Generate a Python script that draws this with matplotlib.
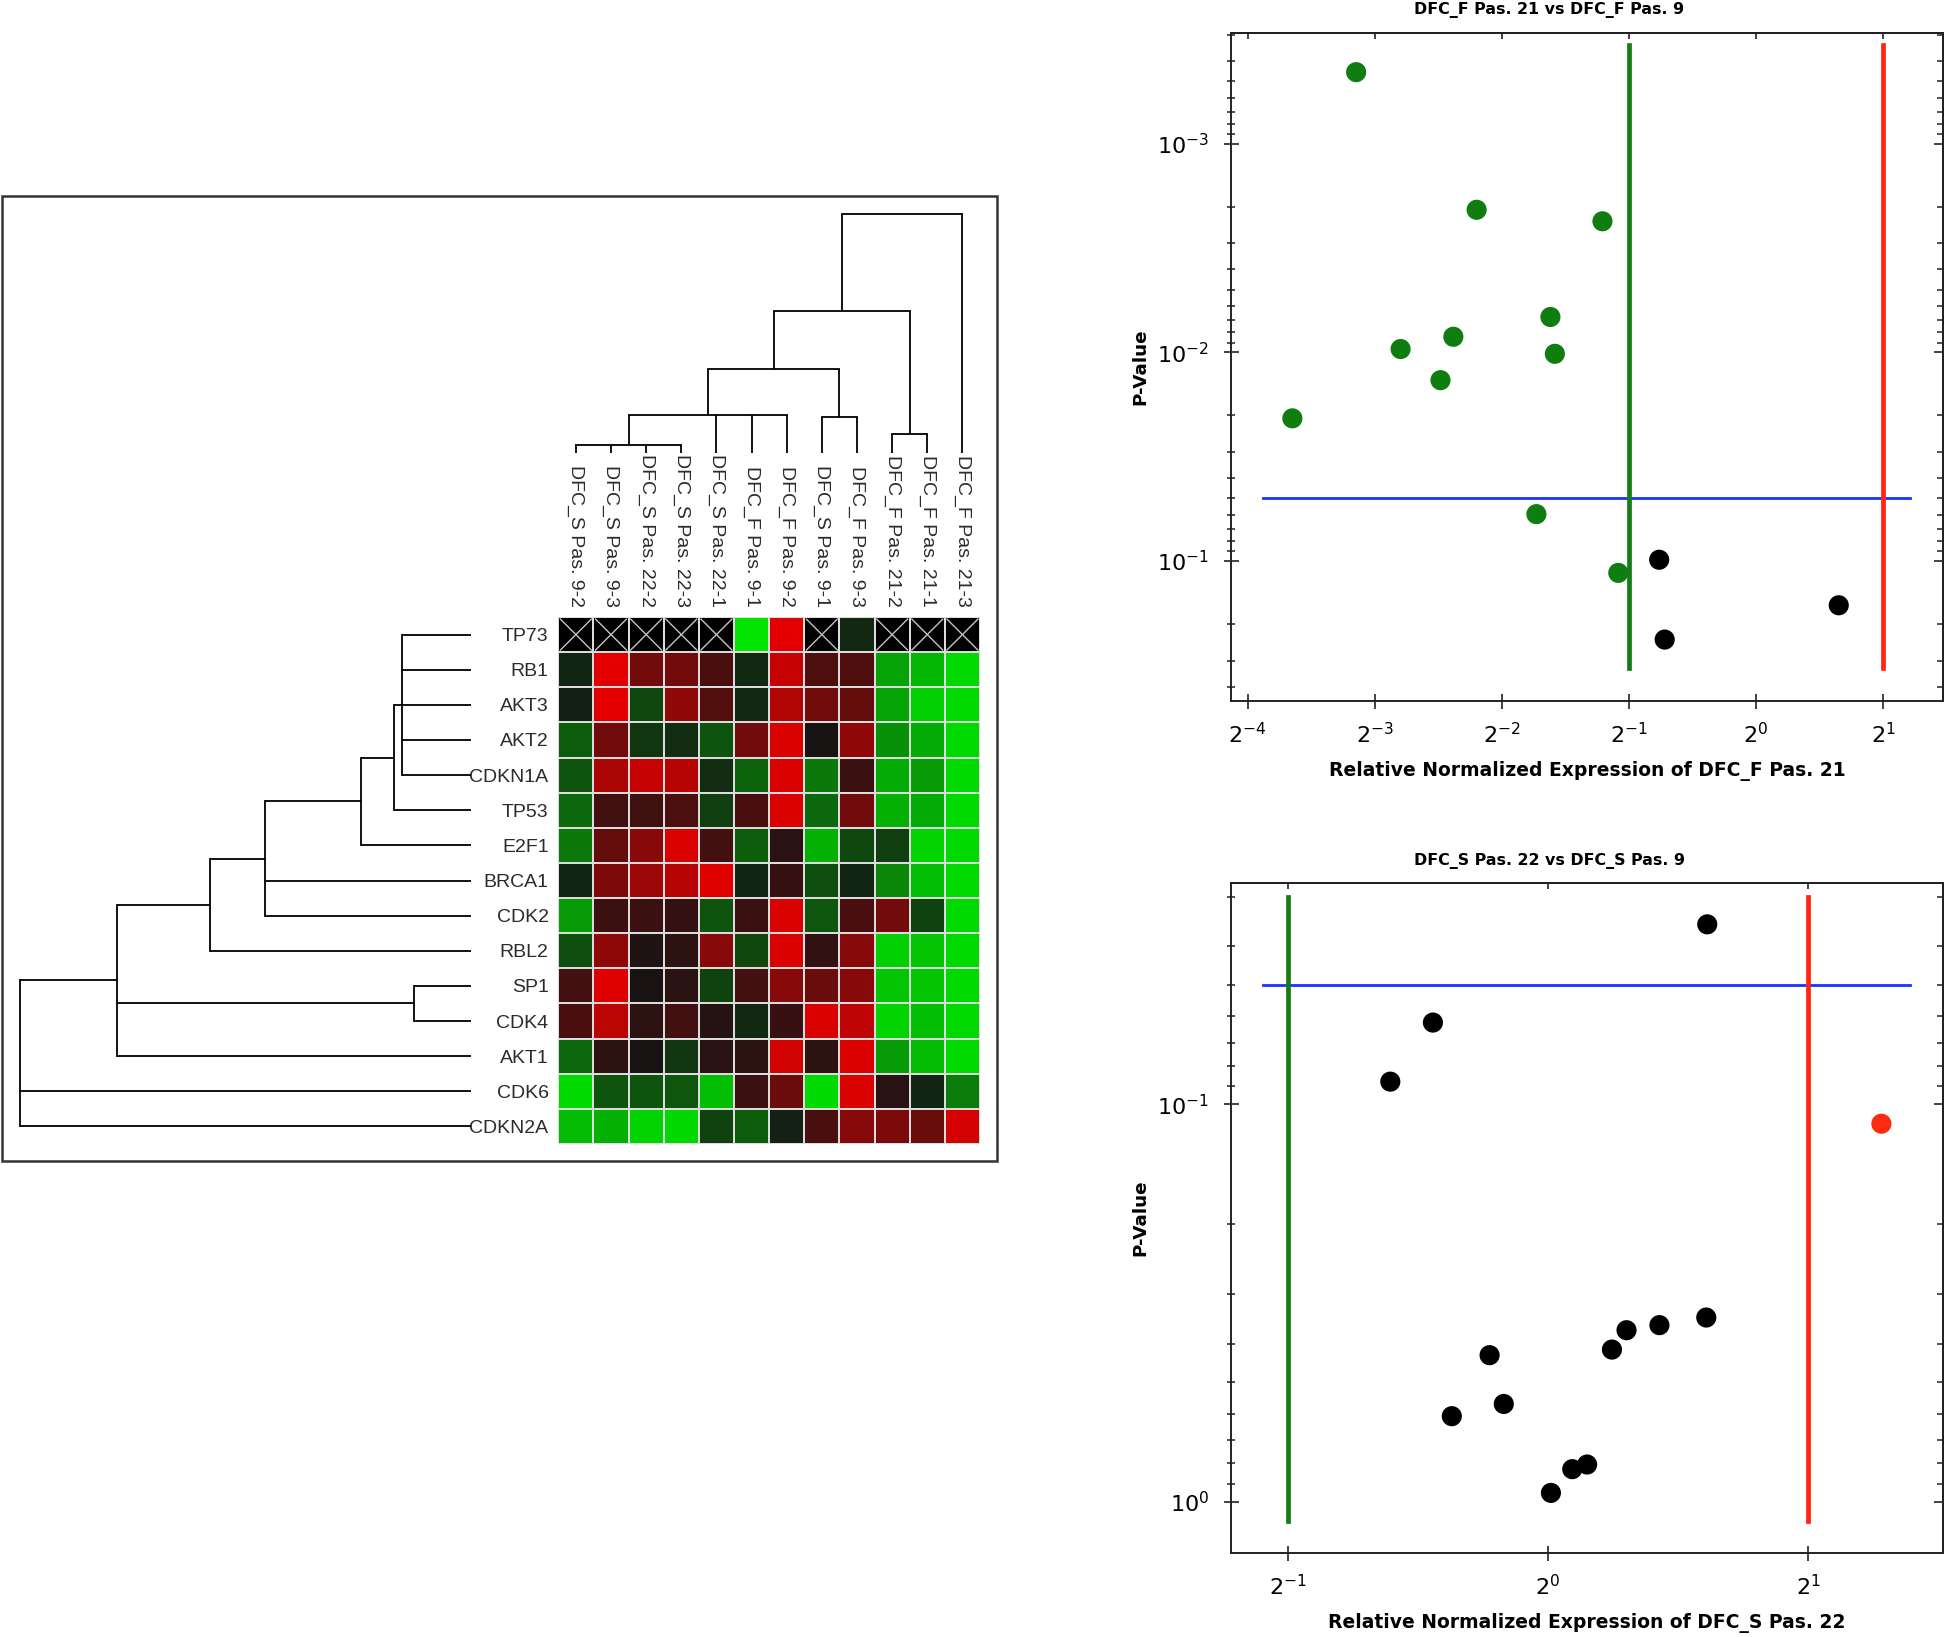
import numpy as np
import matplotlib
matplotlib.use("Agg")
import matplotlib.pyplot as plt
from matplotlib import font_manager
from matplotlib.colors import LinearSegmentedColormap
from matplotlib.patches import Rectangle
from matplotlib.ticker import (LogLocator, NullFormatter, NullLocator,
                               FixedLocator, FuncFormatter)

W, H = 1946, 1637

plt.rcParams["mathtext.fontset"] = "custom"
plt.rcParams["mathtext.rm"] = "Liberation Sans"
plt.rcParams["mathtext.it"] = "Liberation Sans:italic"
plt.rcParams["mathtext.bf"] = "Liberation Sans:bold"

# ---- heatmap data ----
genes = ["TP73", "RB1", "AKT3", "AKT2", "CDKN1A", "TP53", "E2F1", "BRCA1",
         "CDK2", "RBL2", "SP1", "CDK4", "AKT1", "CDK6", "CDKN2A"]
samples = ["DFC_S Pas. 9-2", "DFC_S Pas. 9-3", "DFC_S Pas. 22-2",
           "DFC_S Pas. 22-3", "DFC_S Pas. 22-1", "DFC_F Pas. 9-1",
           "DFC_F Pas. 9-2", "DFC_S Pas. 9-1", "DFC_F Pas. 9-3",
           "DFC_F Pas. 21-2", "DFC_F Pas. 21-1", "DFC_F Pas. 21-3"]

nan = np.nan
# scaled expression, -1 = green (low), +1 = red (high), nan = no data
expr = np.array([
    [nan, nan, nan, nan, nan, -1.0, 1.0, nan, -0.1, nan, nan, nan],
    [-0.08, 1.0, 0.45, 0.45, 0.25, -0.1, 0.85, 0.28, 0.28, -0.68, -0.78, -0.95],
    [-0.05, 1.0, -0.25, 0.6, 0.3, -0.1, 0.75, 0.45, 0.38, -0.68, -0.9, -0.95],
    [-0.35, 0.45, -0.15, -0.12, -0.3, 0.45, 0.95, 0.02, 0.6, -0.6, -0.72, -0.95],
    [-0.3, 0.72, 0.85, 0.78, -0.12, -0.38, 0.95, -0.48, 0.18, -0.72, -0.65, -0.95],
    [-0.4, 0.22, 0.2, 0.26, -0.2, 0.25, 0.95, -0.4, 0.45, -0.75, -0.72, -0.95],
    [-0.48, 0.38, 0.55, 0.95, 0.22, -0.35, 0.1, -0.75, -0.25, -0.2, -0.92, -0.95],
    [-0.08, 0.5, 0.65, 0.78, 0.98, -0.08, 0.15, -0.28, -0.08, -0.55, -0.82, -0.95],
    [-0.65, 0.18, 0.18, 0.15, -0.3, 0.18, 0.95, -0.32, 0.25, 0.45, -0.22, -0.95],
    [-0.28, 0.58, 0.06, 0.12, 0.55, -0.25, 0.95, 0.14, 0.55, -0.9, -0.85, -0.95],
    [0.22, 0.98, 0.03, 0.1, -0.22, 0.22, 0.55, 0.42, 0.55, -0.85, -0.85, -0.95],
    [0.25, 0.8, 0.12, 0.22, 0.08, -0.1, 0.17, 0.95, 0.82, -0.92, -0.82, -0.95],
    [-0.4, 0.12, 0.02, -0.15, 0.1, 0.12, 0.9, 0.12, 0.95, -0.65, -0.8, -0.95],
    [-0.95, -0.3, -0.3, -0.32, -0.82, 0.18, 0.42, -0.95, 0.95, 0.1, -0.08, -0.5],
    [-0.8, -0.75, -0.92, -0.93, -0.22, -0.35, -0.06, 0.25, 0.55, 0.5, 0.4, 0.92],
])

# clustering: (children, height); leaves first, new nodes numbered after
row_merges = [
    ([0, 1, 2, 3, 4], 0.152),
    ([15, 5], 0.171),
    ([16, 6], 0.244),
    ([17, 7, 8], 0.456),
    ([18, 9], 0.578),
    ([10, 11], 0.127),
    ([19, 20, 12], 0.786),
    ([21, 13, 14], 1.0),
]
col_merges = [
    ([0, 1, 2, 3], 0.032),
    ([12, 4, 5, 6], 0.158),
    ([7, 8], 0.151),
    ([13, 14], 0.350),
    ([9, 10], 0.078),
    ([15, 16], 0.595),
    ([17, 11], 1.0),
]

# ---- volcano data ----
fold_F = [0.113, 0.218, 0.433, 0.326, 0.192, 0.144, 0.334, 0.179, 0.0798,
          0.302, 0.472, 0.590, 0.608, 1.571]
pval_F = [4.53e-4, 2.07e-3, 2.35e-3, 6.76e-3, 8.41e-3, 9.63e-3, 0.01015,
          0.01358, 0.0207, 0.0596, 0.114, 0.0986, 0.238, 0.163]
fold_S = [1.529, 0.736, 0.657, 2.432, 1.525, 1.346, 1.233, 1.186, 0.856,
          0.889, 0.774, 1.110, 1.067, 1.008]
pval_S = [0.0352, 0.0622, 0.0876, 0.1118, 0.3438, 0.3593, 0.370, 0.414,
          0.4276, 0.5674, 0.609, 0.806, 0.828, 0.950]
fold_down, fold_up, p_cut = 0.5, 2.0, 0.05


def px(x0, y0, x1, y1):
    return [x0 / W, 1 - y1 / H, (x1 - x0) / W, (y1 - y0) / H]


names = {f.name for f in font_manager.fontManager.ttflist}
if "Liberation Sans Narrow" in names:
    hm_font, hm_size = "Liberation Sans Narrow", 16.5
else:
    hm_font, hm_size = "Liberation Sans", 14

fig = plt.figure(figsize=(W / 100, H / 100), dpi=100)
fig.patch.set_facecolor("white")

# frame round the heatmap panel
fig.add_artist(Rectangle((2 / W, 1 - 1161 / H), 995 / W, 965 / H,
                         transform=fig.transFigure, fill=False,
                         ec="#333333", lw=1.8))

# heatmap
ax_hm = fig.add_axes(px(558.3, 617, 980, 1144))
cmap = LinearSegmentedColormap.from_list("gkr", ["#00e400", "#141414", "#e40000"])
cmap.set_bad("black")
ax_hm.pcolormesh(np.ma.masked_invalid(expr), cmap=cmap, vmin=-1, vmax=1,
                 edgecolors="#dcdcdc", linewidth=1.3)
for r, c in zip(*np.where(np.isnan(expr))):
    ax_hm.plot([c + 0.06, c + 0.94], [r + 0.06, r + 0.94], color="#c4c4c4", lw=1)
    ax_hm.plot([c + 0.06, c + 0.94], [r + 0.94, r + 0.06], color="#c4c4c4", lw=1)
ax_hm.set_xlim(0, len(samples))
ax_hm.set_ylim(len(genes), 0)
ax_hm.set_yticks(np.arange(len(genes)) + 0.5, genes)
ax_hm.xaxis.tick_top()
ax_hm.set_xticks(np.arange(len(samples)) + 0.5, samples, rotation=270)
ax_hm.tick_params(length=0, labelcolor="#2b2b2b", labelsize=hm_size)
ax_hm.tick_params(axis="y", pad=7)
ax_hm.tick_params(axis="x", pad=7)
for lab in ax_hm.get_xticklabels() + ax_hm.get_yticklabels():
    lab.set_fontfamily([hm_font, "Liberation Sans"])
for s in ax_hm.spines.values():
    s.set_visible(False)


def dendro(ax, merges, n, side):
    pos = {i: float(i) for i in range(n)}
    hgt = {i: 0.0 for i in range(n)}
    for k, (kids, h) in enumerate(merges):
        ps = [pos[c] for c in kids]
        for c in kids:
            a, b = [pos[c], pos[c]], [hgt[c], h]
            if side == "left":
                ax.plot(b, a, color="black", lw=1.3, solid_capstyle="butt", clip_on=False)
            else:
                ax.plot(a, b, color="black", lw=1.3, solid_capstyle="butt", clip_on=False)
        a, b = [min(ps), max(ps)], [h, h]
        if side == "left":
            ax.plot(b, a, color="black", lw=1.3, solid_capstyle="projecting", clip_on=False)
        else:
            ax.plot(a, b, color="black", lw=1.3, solid_capstyle="projecting", clip_on=False)
        pos[n + k] = (min(ps) + max(ps)) / 2
        hgt[n + k] = h
    ax.axis("off")


ax_rd = fig.add_axes(px(20.4, 617, 470.7, 1144))
dendro(ax_rd, row_merges, len(genes), "left")
ax_rd.set_xlim(1.0, 0.0)
ax_rd.set_ylim(len(genes) - 0.5, -0.5)

ax_cd = fig.add_axes(px(558.3, 214, 980, 453))
dendro(ax_cd, col_merges, len(samples), "top")
ax_cd.set_xlim(-0.5, len(samples) - 0.5)
ax_cd.set_ylim(0, 1.0)


# ---- volcano plots ----
def volcano(rect, fold, pval, xlim, ylim, xticks, title, xlabel, vline_span,
            title_y, ylabel_y):
    ax = fig.add_axes(rect)
    ax.set_xscale("log", base=2)
    ax.set_yscale("log")
    ax.axhline(p_cut, xmin=0.045, xmax=0.954, color="#1533ff", lw=2, zorder=2)
    ax.axvline(fold_down, ymin=vline_span[0], ymax=vline_span[1],
               color="#177c17", lw=3.4, zorder=2)
    ax.axvline(fold_up, ymin=vline_span[0], ymax=vline_span[1],
               color="#ff2414", lw=3.4, zorder=2)
    cols = ["#0f7d0f" if f < fold_down else "#ff2a10" if f > fold_up else "black"
            for f in fold]
    ax.scatter(fold, pval, s=210, c=cols, edgecolors="none", zorder=3)
    ax.set_xlim(*xlim)
    ax.set_ylim(*ylim)

    ax.xaxis.set_major_locator(FixedLocator(xticks))
    ax.xaxis.set_minor_locator(NullLocator())
    ax.xaxis.set_major_formatter(
        FuncFormatter(lambda v, p: r"$\mathregular{2^{%d}}$" % round(np.log2(v))))
    ax.yaxis.set_major_locator(LogLocator(base=10))
    ax.yaxis.set_minor_locator(LogLocator(base=10, subs=np.arange(2, 10)))
    ax.yaxis.set_minor_formatter(NullFormatter())
    ax.yaxis.set_major_formatter(
        FuncFormatter(lambda v, p: r"$\mathregular{10^{%d}}$" % round(np.log10(v))))
    ax.tick_params(which="major", direction="inout", length=10.8, width=1.2,
                   labelsize=16, color="#222222")
    ax.tick_params(axis="y", which="major", pad=10.5)
    ax.tick_params(axis="x", which="major", pad=9.5)
    ax.tick_params(which="minor", direction="inout", length=5.8, width=1.1,
                   color="#222222")
    for s in ax.spines.values():
        s.set_linewidth(1.4)
        s.set_color("#222222")

    sy = ax.secondary_yaxis("right")
    sy.yaxis.set_major_locator(LogLocator(base=10))
    sy.yaxis.set_minor_locator(LogLocator(base=10, subs=np.arange(2, 10)))
    sy.yaxis.set_major_formatter(NullFormatter())
    sy.yaxis.set_minor_formatter(NullFormatter())
    sy.tick_params(which="major", direction="in", length=6.5, width=1.2, color="#222222")
    sy.tick_params(which="minor", direction="in", length=4.3, width=1.1, color="#222222")
    sy.spines["right"].set_linewidth(1.4)
    sy.spines["right"].set_color("#222222")

    sx = ax.secondary_xaxis("top")
    sx.xaxis.set_major_locator(FixedLocator(xticks))
    sx.xaxis.set_minor_locator(NullLocator())
    sx.xaxis.set_major_formatter(NullFormatter())
    sx.tick_params(which="major", direction="in", length=4.3, width=1.2, color="#222222")
    sx.spines["top"].set_linewidth(1.4)
    sx.spines["top"].set_color("#222222")

    ax.set_xlabel(xlabel, fontweight="bold", fontsize=13.5)
    ax.xaxis.set_label_coords(0.5, -0.09)
    fig.text(1140 / W, 1 - ylabel_y / H, "P-Value", rotation=90, ha="center",
             va="center", fontweight="bold", fontsize=13.2)
    fig.text(1549 / W, 1 - title_y / H, title, ha="center", va="center",
             fontweight="bold", fontsize=11.4)
    return ax


volcano(px(1231, 33, 1943, 701), fold_F, pval_F,
        (0.0571, 2.774), (0.469, 2.94e-4), [2.0 ** k for k in range(-4, 2)],
        "DFC_F Pas. 21 vs DFC_F Pas. 9",
        "Relative Normalized Expression of DFC_F Pas. 21",
        (0.049, 0.982), 10, 367)

volcano(px(1231, 883, 1943, 1553), fold_S, pval_S,
        (0.4297, 2.866), (1.346, 0.0277), [2.0 ** k for k in range(-1, 2)],
        "DFC_S Pas. 22 vs DFC_S Pas. 9",
        "Relative Normalized Expression of DFC_S Pas. 22",
        (0.048, 0.979), 861, 1218)

fig.savefig("out.png", dpi=100, facecolor="white")
